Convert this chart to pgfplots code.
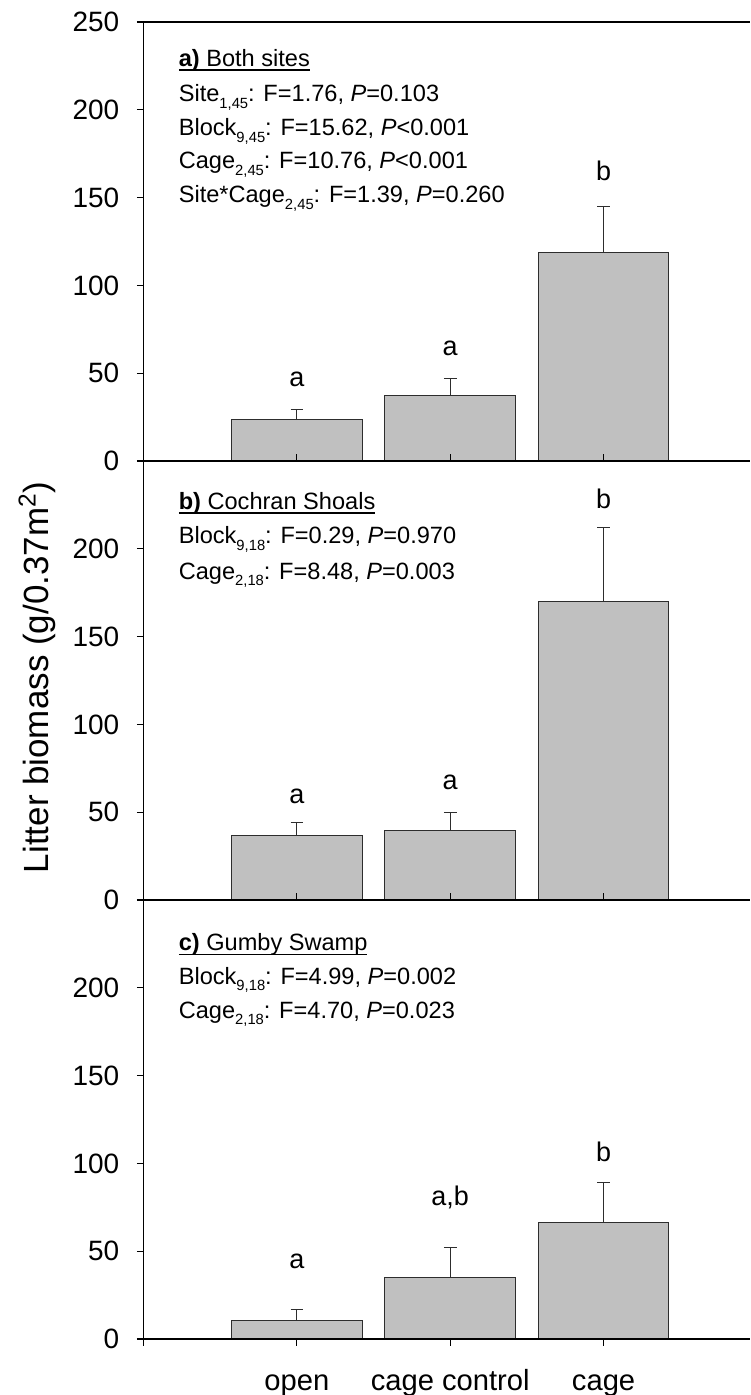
\documentclass[border=0pt]{standalone}
\usepackage{fontspec}
\setmainfont{Liberation Sans}
\usepackage{pgfplots}
\usepackage{pgfplotstable}
\pgfplotsset{compat=1.18}

\definecolor{barfill}{RGB}{192,192,192}
\definecolor{edge}{RGB}{45,45,45}

% mean and standard error per treatment: open, cage control, cage
\pgfplotstableread{
x y e
1 23.7 5.7
2 37.2 9.8
3 118.6 26.1
}\dataA
\pgfplotstableread{
x y e
1 36.9 7.2
2 39.6 10.5
3 170.2 42.1
}\dataB
\pgfplotstableread{
x y e
1 10.4 6.6
2 34.9 17.0
3 66.1 23.0
}\dataC

\newcommand{\annot}{\fontsize{11.8}{14}\selectfont}
\newcommand{\letter}{\fontsize{13.5}{16}\selectfont}
% lowered, reduced-size subscript for the degrees of freedom
\newcommand{\df}[1]{\raisebox{-3.3pt}{\fontsize{7.4}{8}\selectfont #1}}
% heading with a close, heavy underline
\newcommand{\heading}[1]{{\setbox0\hbox{#1}\rlap{\rule[-2.2pt]{\wd0}{0.9pt}}\box0}}

\pgfplotsset{
  panel/.style={
    scale only axis, width=303.65pt, height=219.75pt,
    xmin=0, xmax=3.956, ymin=0, ymax=250,
    axis x line=bottom, axis y line=left,
    axis line style={-, line width=0.75pt, color=black},
    major tick length=3.3pt,
    tick style={line width=0.6pt, color=black},
    ybar, bar width=0.852,
    axis on top,
    clip=false,
    /pgf/number format/assume math mode=true,
    yticklabel style={font=\fontsize{14}{16}\selectfont},
  },
  inner x/.style={
    tick align=inside,
    y tick style={xshift=-3.3pt},
    yticklabel style={xshift=-8.6pt},
    xtick={1,2,3}, xticklabels={},
  },
  barstyle/.style={
    fill=barfill, draw=edge, line width=0.5pt,
    error bars/.cd, y dir=plus, y explicit,
    error bar style={line width=0.5pt, color=edge},
    error mark options={mark size=3.2pt, line width=0.5pt, color=edge, rotate=90},
  },
}

\begin{document}
\begin{tikzpicture}
\useasboundingbox (-71.85pt,-467.5pt) rectangle (303.65pt,230.75pt);

% a) both sites
\begin{axis}[panel, inner x, at={(0pt,0pt)}, ytick={0,50,...,250}]
\draw[line width=0.75pt] (rel axis cs:0,1) -- (rel axis cs:1,1);
\addplot[barstyle] table[x=x, y=y, y error=e] {\dataA};
\node[anchor=base west, font=\annot] at (axis cs:0.184,224.5) {\heading{\textbf{a)} Both sites}};
\node[anchor=base west, font=\annot] at (axis cs:0.184,204.5) {Site\df{1,45}: F=1.76, \textit{P}=0.103};
\node[anchor=base west, font=\annot] at (axis cs:0.184,185.3) {Block\df{9,45}: F=15.62, \textit{P}<0.001};
\node[anchor=base west, font=\annot] at (axis cs:0.184,166.3) {Cage\df{2,45}: F=10.76, \textit{P}<0.001};
\node[anchor=base west, font=\annot] at (axis cs:0.184,147.0) {Site*Cage\df{2,45}: F=1.39, \textit{P}=0.260};
\node[anchor=base, font=\letter] at (axis cs:1,42.3) {a};
\node[anchor=base, font=\letter] at (axis cs:2,60.3) {a};
\node[anchor=base, font=\letter] at (axis cs:3,160) {b};
\end{axis}

% b) Cochran Shoals
\begin{axis}[panel, inner x, at={(0pt,-219.75pt)}, ytick={0,50,...,200}]
\addplot[barstyle] table[x=x, y=y, y error=e] {\dataB};
\node[anchor=base west, font=\annot] at (axis cs:0.184,222.6) {\heading{\textbf{b)} Cochran Shoals}};
\node[anchor=base west, font=\annot] at (axis cs:0.184,202.8) {Block\df{9,18}: F=0.29, \textit{P}=0.970};
\node[anchor=base west, font=\annot] at (axis cs:0.184,182.8) {Cage\df{2,18}: F=8.48, \textit{P}=0.003};
\node[anchor=base, font=\letter] at (axis cs:1,55.2) {a};
\node[anchor=base, font=\letter] at (axis cs:2,62.9) {a};
\node[anchor=base, font=\letter] at (axis cs:3,222.7) {b};
\end{axis}

% c) Gumby Swamp
\begin{axis}[panel, at={(0pt,-439.5pt)}, ytick={0,50,...,200},
  tick align=outside,
  yticklabel style={xshift=-5.3pt},
  xtick={0,1,2,3}, xticklabels={,open,cage control,cage},
  xticklabel style={font=\fontsize{14.6}{17}\selectfont, anchor=base, yshift=-22.5pt}]
\addplot[barstyle] table[x=x, y=y, y error=e] {\dataC};
\node[anchor=base west, font=\annot] at (axis cs:0.184,221.0) {\heading{\textbf{c)} Gumby Swamp}};
\node[anchor=base west, font=\annot] at (axis cs:0.184,202.0) {Block\df{9,18}: F=4.99, \textit{P}=0.002};
\node[anchor=base west, font=\annot] at (axis cs:0.184,182.7) {Cage\df{2,18}: F=4.70, \textit{P}=0.023};
\node[anchor=base, font=\letter] at (axis cs:1,40.4) {a};
\node[anchor=base, font=\letter] at (axis cs:2,76.0) {a,b};
\node[anchor=base, font=\letter] at (axis cs:3,101) {b};
\end{axis}

\node[rotate=90, font=\fontsize{17.5}{20}\selectfont] at (-53.35pt,-108.25pt) {Litter biomass (g/0.37m\textsuperscript{2})};
\end{tikzpicture}
\end{document}
